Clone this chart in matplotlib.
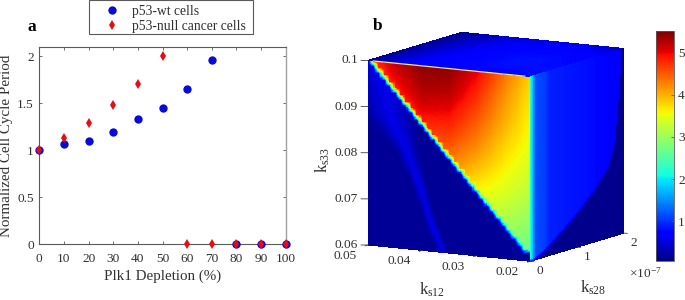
import numpy as np
import matplotlib
matplotlib.use("Agg")
import matplotlib.pyplot as plt
from matplotlib.lines import Line2D
from matplotlib.patches import Rectangle
from matplotlib.cm import ScalarMappable
from matplotlib.colors import Normalize
from mpl_toolkits.mplot3d import proj3d

plt.rcParams['font.family'] = ['Liberation Serif', 'DejaVu Serif']
plt.rcParams['mathtext.fontset'] = 'custom'
plt.rcParams['mathtext.rm'] = 'Liberation Serif'
plt.rcParams['mathtext.it'] = 'Liberation Serif'
plt.rcParams['mathtext.default'] = 'rm'

W, H = 685, 300
GREY = '#5a5a5a'
TXT = '#303030'
FS = 9.6

# ---------- panel a data
depletion = [0, 10, 20, 30, 40, 50, 60, 70, 80, 90, 100]
wt_period = [1.0, 1.064, 1.10, 1.19, 1.33, 1.452, 1.655, 1.964, 0, 0, 0]
null_period = [1.0, 1.128, 1.29, 1.48, 1.71, 2.0, 0, 0, 0, 0, 0]
xticks_a = [0, 10, 20, 30, 40, 50, 60, 70, 80, 90, 100]
yticks_a = [0, 0.5, 1, 1.5, 2]
ylabels_a = ['0', '0.5', '1', '1.5', '2']

ks12_tab = [0.05, 0.045, 0.04, 0.035, 0.03, 0.025, 0.02]
ks33_tab = [0.10, 0.095, 0.09, 0.085, 0.08, 0.075, 0.07, 0.065, 0.06]
ks28_tab = [0, 0.5, 1, 1.5, 2]
front_face = [
    [4.6, 5.2, 5.45, 5.45, 5.05, 4.4, 3.8],
    [4.4, 4.9, 5.3, 5.25, 4.8, 4.2, 3.7],
    [4.2, 4.6, 5.0, 4.95, 4.55, 4.05, 3.6],
    [4.0, 4.3, 4.6, 4.65, 4.3, 3.85, 3.5],
    [3.8, 4.0, 4.25, 4.3, 4.0, 3.65, 3.35],
    [3.6, 3.8, 3.9, 3.85, 3.65, 3.45, 3.2],
    [3.4, 3.5, 3.5, 3.45, 3.35, 3.2, 3.0],
    [3.0, 3.1, 3.1, 3.1, 3.05, 2.95, 2.8],
    [2.6, 2.7, 2.8, 2.8, 2.8, 2.7, 2.5],
]
top_face = [
    [0.15, 0.55, 0.70, 0.75, 0.75, 0.75, 0.80],
    [0.15, 0.50, 0.70, 0.75, 0.80, 0.80, 0.80],
    [0.15, 0.45, 0.65, 0.75, 0.80, 0.80, 0.75],
    [0.15, 0.40, 0.60, 0.70, 0.75, 0.75, 0.65],
    [0.10, 0.30, 0.45, 0.55, 0.55, 0.50, 0.30],
]
edge_ks12 = [0.049, 0.021]
edge_ks33 = [0.1, 0.062667]
ridge_ks33 = [0.099, 0.089, 0.0813, 0.0744, 0.066, 0.061]
ridge_ks12 = [0.0482, 0.0461, 0.0428, 0.0406, 0.0383, 0.0364]
ridge_width = [0.006, 0.005, 0.0022, 0.0014, 0.0012, 0.0012]
side_ks28 = [0, 0.05, 0.1, 0.3, 0.4, 1.2, 1.88, 1.95, 2.0]
side_val = [2.2, 1.5, 1.15, 1.05, 0.9, 0.8, 0.7, 0.25, 0.2]
arc_ks28 = [0, 0.1, 0.374, 0.92, 1.36, 1.65, 1.80, 1.89, 1.94, 2.0]
arc_ks33 = [0.06, 0.0602, 0.0619, 0.0666, 0.0712, 0.0753, 0.0806, 0.092, 0.1, 0.1]
ticks_ks12 = [0.05, 0.04, 0.03, 0.02]
ticks_ks28 = [0, 1, 2]
ticks_ks33 = [0.06, 0.07, 0.08, 0.09, 0.1]
cbar_ticks = [1, 2, 3, 4, 5]
vmin, vmax = 0.05, 5.52


def upsample(table, xs, ys, xq, yq):
    table = np.asarray(table, float)
    a = np.array([np.interp(xq, xs, row) for row in table])
    return np.array([np.interp(yq, ys, a[:, j]) for j in range(a.shape[1])]).T


def box_blur(a, n):
    kernel = np.ones(n) / n
    pad = n // 2
    a = np.pad(a, pad, mode='edge')
    a = np.apply_along_axis(lambda r: np.convolve(r, kernel, mode='same'), 0, a)
    a = np.apply_along_axis(lambda r: np.convolve(r, kernel, mode='same'), 1, a)
    return a[pad:-pad, pad:-pad]


fig = plt.figure(figsize=(W / 100, H / 100), dpi=100)
fig.patch.set_facecolor('white')


def fx(p):
    return p / W


def fy(p):
    return 1 - p / H


# ---------- panel a
ax = fig.add_axes([fx(39.3), fy(244.3), fx(285.7 - 39.3), (244.3 - 47) / H])
ax.plot(depletion, wt_period, 'o', color='#0a0ad8', ms=6, mew=0, clip_on=False, zorder=3)
ax.plot(depletion, null_period, 'd', color='#e80c14', ms=4.9, mew=0, clip_on=False, zorder=4)
ax.set_xlim(0, 100)
ax.set_ylim(0, 2.1)
ax.set_xticks(xticks_a)
ax.set_yticks(yticks_a)
ax.set_yticklabels(ylabels_a)
ax.tick_params(direction='in', top=True, right=True, length=2.5, width=0.6, color=GREY,
               labelsize=FS, labelcolor=TXT)
ax.tick_params(axis='x', pad=6)
ax.tick_params(axis='y', pad=4)
for s in ax.spines.values():
    s.set_color(GREY)
    s.set_linewidth(0.8)
ax.spines['right'].set_color('#a0a0a0')
ax.spines['right'].set_linewidth(1.0)
fig.text(fx(162.5), fy(276), 'Plk1 Depletion (%)', ha='center', va='center', fontsize=10.8, color=TXT)
fig.text(fx(7), fy(146), 'Normalized Cell Cycle Period', rotation=90, ha='center', va='center',
         fontsize=10.8, color=TXT)
fig.text(fx(32), fy(27), 'a', fontsize=12.5, fontweight='bold', ha='center', va='center', color='black')
fig.text(fx(378), fy(26), 'b', fontsize=12.5, fontweight='bold', ha='center', va='center', color='black')

fig.patches.append(Rectangle((fx(88.5), fy(34)), fx(164.5), 34.5 / H, transform=fig.transFigure,
                             facecolor='white', edgecolor=GREY, linewidth=0.8, clip_on=False))
handles = [Line2D([], [], ls='', marker='o', color='#0a0ad8', ms=6, mew=0),
           Line2D([], [], ls='', marker='d', color='#e80c14', ms=4.9, mew=0)]
leg = fig.legend(handles, ['p53-wt cells', 'p53-null cancer cells'], loc='upper left',
                 bbox_to_anchor=(fx(95), fy(4.5)), fontsize=9.8, frameon=False,
                 borderaxespad=0, borderpad=0,
                 handlelength=2.5, handletextpad=0.22, labelspacing=0.2, labelcolor=TXT)

# ---------- panel b
ax3 = fig.add_axes([fx(300), fy(290), 0.4, 0.4 * W / H], projection='3d', proj_type='ortho')
ax3.patch.set_alpha(0)
ax3.set_xticks([])
ax3.set_yticks([])
ax3.set_zticks([])
ax3.set_axis_off()
ax3.view_init(elev=10, azim=-60)
ax3.set_box_aspect((1, 1, 1))
ax3.set_xlim(0.05, 0.02)
ax3.set_ylim(0, 2)
ax3.set_zlim(0.06, 0.1)
ax3.computed_zorder = False

cmap = plt.get_cmap('jet')
norm = Normalize(vmin, vmax)
N = 151
xq = np.linspace(0.05, 0.02, N)
yq = np.linspace(0, 2, N)
zq = np.linspace(0.06, 0.1, N)

# front face (ks28 = 0): a stepped region edge, as in the coarse source grid
fx_tab = np.array(front_face)[::-1][:, ::-1]
inside = upsample(fx_tab, ks12_tab[::-1], ks33_tab[::-1], xq, zq)
gx = np.linspace(0.05, 0.02, 31)
gz = np.linspace(0.06, 0.1, 31)
bound = np.interp(gx[::-1], edge_ks12[::-1], edge_ks33[::-1])[::-1]
bound = np.where(gx > edge_ks12[0] + 1e-7, 9, bound)
mask = (gz[:, None] >= bound[None, :] - 1e-5).astype(float)
ci = np.clip(np.round((np.arange(N)) / (N - 1) * 30).astype(int), 0, 30)
mask_up = box_blur(mask[np.ix_(ci, ci)], 5)
X, Z = np.meshgrid(xq, zq)
rx = np.interp(Z, ridge_ks33[::-1], ridge_ks12[::-1])
rw = np.interp(Z, ridge_ks33[::-1], ridge_width[::-1])
outside = 0.17 + 0.4 * np.clip(1 - np.abs(X - rx) / rw, 0, 1)
front = inside * mask_up + outside * (1 - mask_up)
ax3.plot_surface(X, np.zeros_like(X), Z, facecolors=cmap(norm(front)), shade=False,
                 rstride=1, cstride=1, linewidth=0, antialiased=False, zorder=1)

# top face (ks33 = 0.1)
top = upsample(np.array(top_face)[:, ::-1], ks12_tab[::-1], ks28_tab, xq[::-1], yq)[:, ::-1]
X2, Y2 = np.meshgrid(xq, yq)
ax3.plot_surface(X2, Y2, np.full_like(X2, 0.1), facecolors=cmap(norm(top)), shade=False,
                 rstride=1, cstride=1, linewidth=0, antialiased=False, zorder=1)

# side face (ks12 = 0.02)
Y3, Z3 = np.meshgrid(yq, zq)
base = np.interp(Y3, side_ks28, side_val)
arc = np.interp(Y3, arc_ks28, arc_ks33)
blend = np.clip((Z3 - arc + 0.0005) / 0.001, 0, 1)
side = 0.13 * (1 - blend) + base * blend
ax3.plot_surface(np.full_like(Y3, 0.02), Y3, Z3, facecolors=cmap(norm(side)), shade=False,
                 rstride=1, cstride=1, linewidth=0, antialiased=False, zorder=1)

# bright upper edge of the triangle
ax3.plot(edge_ks12, [0, 0], [0.1, 0.1], color='#ffe27a', lw=0.9, zorder=2)


# box calibration: place the cube at its pixel position
def corner_px(x, y, z):
    a, b, _ = proj3d.proj_transform(x, y, z, ax3.get_proj())
    return ax3.transData.transform((a, b))


for _ in range(3):
    fig.canvas.draw()
    p0 = corner_px(0.05, 0, 0.06)
    p1 = corner_px(0.02, 2, 0.1)
    pos = ax3.get_position()
    k = (624 - 368) / (p1[0] - p0[0])
    x0 = 368 - (p0[0] - pos.x0 * W) * k
    y0 = (H - 245) - (p0[1] - pos.y0 * H) * k
    ax3.set_position([x0 / W, y0 / H, pos.width * k, pos.height * k])
fig.canvas.draw()

# 3D axis ticks and tick labels
tc = '#404040'
for z in ticks_ks33:
    ax3.plot([0.05, 0.05 + 0.03 * 0.032], [0, -2 * 0.018], [z, z], color=tc, lw=0.6, zorder=3)
    p = corner_px(0.05, 0, z)
    fig.text((p[0] - 10) / W, p[1] / H, f'{z:g}', ha='right', va='center', fontsize=FS, color=TXT)
for x in ticks_ks12:
    ax3.plot([x, x], [0, -0.06], [0.06, 0.06], color=tc, lw=0.6, zorder=3)
    p = corner_px(x, 0, 0.06)
    fig.text((p[0] - 23) / W, (p[1] - 11) / H, f'{x:g}', ha='center', va='center', fontsize=FS, color=TXT)
for y in ticks_ks28:
    ax3.plot([0.02, 0.02 - 0.0006], [y, y], [0.06, 0.06], color=tc, lw=0.6, zorder=3)
    p = corner_px(0.02, y, 0.06)
    fig.text((p[0] + 10) / W, (p[1] - 10) / H, f'{y:g}', ha='center', va='center', fontsize=FS, color=TXT)

fig.text(fx(432), fy(290), r'k$_{\mathrm{s12}}$', ha='center', va='center', fontsize=12, color=TXT)
fig.text(fx(593), fy(288), r'k$_{\mathrm{s28}}$', ha='center', va='center', fontsize=12, color=TXT)
fig.text(fx(323), fy(160), r'k$_{\mathrm{s33}}$', rotation=90, ha='center', va='center', fontsize=12, color=TXT)
fig.text(fx(645), fy(273), r'$\times$10$^{-7}$', ha='center', va='center', fontsize=FS, color=TXT)

# ---------- colour bar
cax = fig.add_axes([fx(656), fy(261), fx(18), (261 - 31) / H])
cb = fig.colorbar(ScalarMappable(norm=norm, cmap=cmap), cax=cax)
cb.set_ticks(cbar_ticks)
cb.ax.tick_params(direction='in', length=2.5, width=0.6, color=GREY, labelsize=FS, labelcolor=TXT, pad=3)
cb.outline.set_edgecolor(GREY)
cb.outline.set_linewidth(0.6)

fig.savefig('out.png', dpi=100)
